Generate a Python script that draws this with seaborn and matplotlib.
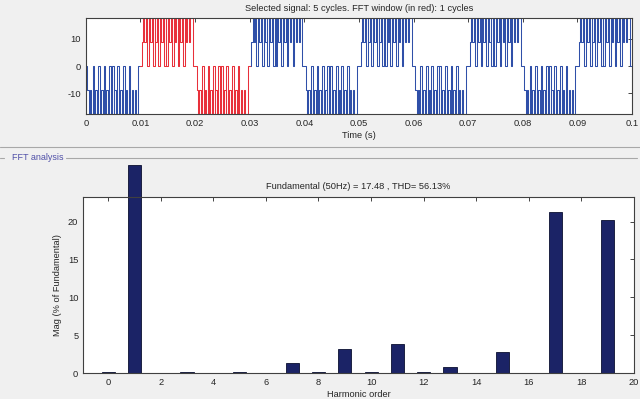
import numpy as np
import pandas as pd
import matplotlib
matplotlib.use("Agg")
import matplotlib.pyplot as plt
import seaborn as sns
from matplotlib.lines import Line2D

# ---------------- data ----------------
# one positive half-cycle of the multilevel PWM signal: switching instants (ms) and level after each instant
half_t_ms = [0.0, 0.3, 0.55, 0.75, 1.05, 1.25, 1.6, 1.75, 2.1, 2.3, 2.6, 2.75, 3.1, 3.25,
             3.6, 3.75, 4.1, 4.25, 4.6, 4.75, 5.1, 5.25, 5.6, 5.75, 6.1, 6.3, 6.6, 6.8,
             7.1, 7.3, 7.6, 7.85, 8.1, 8.4, 8.6, 8.95, 9.15, 9.65]
half_lvl = [0, 8.75, 17.5, 8.75, 17.5, 0, 17.5, 8.75, 17.5, 0, 17.5, 8.75, 17.5, 0,
            17.5, 8.75, 17.5, 0, 17.5, 0, 17.5, 8.75, 17.5, 0, 17.5, 8.75, 17.5, 0,
            17.5, 8.75, 17.5, 0, 17.5, 8.75, 17.5, 8.75, 17.5, 0]
n_cycles = 5
period_s = 0.02
fft_window = (0.01, 0.03)

harmonic = [0, 1, 2, 3, 4, 5, 6, 7, 8, 9, 10, 11, 12, 13, 14, 15, 16, 17, 18, 19]
mag_pct = [0.15, 27.5, 0.0, 0.1, 0.0, 0.2, 0.0, 1.32, 0.1, 3.17, 0.1, 3.87, 0.1, 0.84,
           0.0, 2.73, 0.0, 21.2, 0.0, 20.2]

top_title = "Selected signal: 5 cycles. FFT window (in red): 1 cycles"
bottom_title = "Fundamental (50Hz) = 17.48 , THD= 56.13%"

# ---------------- build waveform (negative half first, then positive half, repeated) ----------------
t_list, v_list = [], []
for c in range(n_cycles):
    base = c * period_s
    for sign, off in ((-1, 0.0), (1, period_s / 2)):
        for tm, lv in zip(half_t_ms, half_lvl):
            t_list.append(base + off + tm / 1000.0)
            v_list.append(sign * lv)
t_list.append(n_cycles * period_s)
v_list.append(0.0)
sig = pd.DataFrame({"t": t_list, "v": v_list})

# ---------------- style ----------------
fs = 6.7
sns.set_theme(style="white")
plt.rcParams["font.family"] = ["Liberation Sans", "DejaVu Sans"]
plt.rcParams["font.size"] = fs
plt.rcParams["axes.labelsize"] = fs
plt.rcParams["axes.titlesize"] = fs
plt.rcParams["axes.unicode_minus"] = False
plt.rcParams["xtick.direction"] = "in"
plt.rcParams["ytick.direction"] = "in"

bg = "#f0f0f0"
fig = plt.figure(figsize=(6.4, 3.99), dpi=100, facecolor=bg)

# ---------------- top axes: signal ----------------
ax1 = fig.add_axes([0.134, 0.714, 0.8535, 0.241])
ax1.set_facecolor("white")
blue = "#2f4fa8"
red = "#e8303a"
pre = sig[sig["t"] <= fft_window[0]]
win = sig[(sig["t"] >= fft_window[0]) & (sig["t"] <= fft_window[1])]
post = sig[sig["t"] >= fft_window[1]]
for part, col in ((pre, blue), (post, blue), (win, red)):
    sns.lineplot(data=part, x="t", y="v", ax=ax1, color=col, lw=0.75,
                 drawstyle="steps-post", estimator=None, sort=False)
ax1.set_xlim(0, 0.1)
ax1.set_ylim(-17.7, 17.7)
ax1.set_xticks(np.arange(0, 0.1001, 0.01))
ax1.set_xticklabels(["0", "0.01", "0.02", "0.03", "0.04", "0.05", "0.06", "0.07",
                     "0.08", "0.09", "0.1"])
ax1.set_yticks([-10, 0, 10])
ax1.set_xlabel("Time (s)", labelpad=2, fontsize=fs)
ax1.set_ylabel("")
ax1.set_title(top_title, fontsize=fs, pad=5)
ax1.tick_params(axis="both", which="both", top=True, right=True, length=3,
                width=0.6, labelsize=fs, pad=3.5, colors="#262626")
for s in ax1.spines.values():
    s.set_color("#404040")
    s.set_linewidth(0.8)

# ---------------- separators and panel label ----------------
fig.add_artist(Line2D([0.0, 1.0], [1 - 147 / 399] * 2, color="#a8a8a8", lw=0.8))
fig.add_artist(Line2D([0.0, 0.007], [1 - 158 / 399] * 2, color="#a8a8a8", lw=0.8))
fig.add_artist(Line2D([0.103, 0.996], [1 - 158 / 399] * 2, color="#a8a8a8", lw=0.8))
fig.text(0.019, 1 - 158 / 399, "FFT analysis", color="#5050a8", fontsize=6.5,
         va="center", ha="left")

# ---------------- bottom axes: FFT bars ----------------
ax2 = fig.add_axes([0.130, 0.065, 0.8606, 0.4405])
ax2.set_facecolor("white")
fft = pd.DataFrame({"harmonic": harmonic, "mag": mag_pct})
sns.barplot(data=fft, x="harmonic", y="mag", ax=ax2, native_scale=True, width=0.5,
            color="#1b2366", edgecolor="#0a0f30", linewidth=0.6, saturation=1)
for p in ax2.patches:
    p.set_clip_on(False)
ax2.set_xlim(-0.95, 20)
ax2.set_ylim(0, 23.2)
ax2.set_xticks(np.arange(0, 21, 2))
ax2.set_yticks([0, 5, 10, 15, 20])
ax2.set_xlabel("Harmonic order", labelpad=2, fontsize=fs)
ax2.set_ylabel("Mag (% of Fundamental)", labelpad=4, fontsize=fs)
ax2.set_title(bottom_title, fontsize=fs, pad=6)
ax2.tick_params(axis="both", which="both", top=True, right=True, length=3,
                width=0.6, labelsize=fs, pad=3.5, colors="#262626")
for s in ax2.spines.values():
    s.set_color("#404040")
    s.set_linewidth(0.8)

fig.savefig("out.png", dpi=100, facecolor=bg)
